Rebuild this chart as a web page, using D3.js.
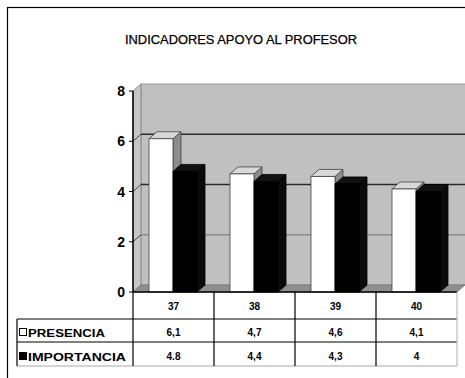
<!DOCTYPE html>
<html>
<head>
<meta charset="utf-8">
<script src="https://cdn.jsdelivr.net/npm/d3@7"></script>
<style>
  html, body { margin: 0; padding: 0; background: #fff; }
  svg { display: block; }
  text { font-family: "Liberation Sans", Arial, sans-serif; fill: #000; }
</style>
</head>
<body>
<svg id="chart" width="465" height="378"></svg>
<script>
// Categories and series
const categories = ["37", "38", "39", "40"];
const presencia = [6.1, 4.7, 4.6, 4.1];
const importancia = [4.8, 4.4, 4.3, 4];
const presenciaLabels = ["6,1", "4,7", "4,6", "4,1"];
const importanciaLabels = ["4.8", "4,4", "4,3", "4"];
const yTicks = [0, 2, 4, 6, 8];
const seriesNames = ["PRESENCIA", "IMPORTANCIA"];
const title = "INDICADORES APOYO AL PROFESOR";

const svg = d3.select("#chart");

// Layout
const plotLeft = 133, plotRight = 457, plotTop = 91, plotBottom = 292;
const dx = 8, dy = -7;           // depth offset of the 3D walls
const barW = 24, barPad = 16;

const x = d3.scaleBand().domain(categories).range([plotLeft, plotRight]);
const y = d3.scaleLinear().domain([0, 8]).range([plotBottom, plotTop]);

// Outer frame
svg.append("rect").attr("x", 7.5).attr("y", 7.5).attr("width", 480).attr("height", 400)
  .attr("fill", "none").attr("stroke", "#000").attr("stroke-width", 1.2);

// Title
svg.append("text").attr("x", 241).attr("y", 43.5).attr("text-anchor", "middle")
  .attr("font-size", 12).attr("textLength", 232).attr("lengthAdjust", "spacingAndGlyphs")
  .attr("stroke", "#000").attr("stroke-width", 0.25)
  .text(title);

// Back wall
svg.append("rect").attr("x", plotLeft + dx).attr("y", y(8) + dy)
  .attr("width", 470 - plotLeft - dx).attr("height", y(0) - y(8))
  .attr("fill", "#c0c0c0").attr("stroke", "#9a9a9a").attr("stroke-width", 1);

// Left side wall
svg.append("path")
  .attr("d", d3.line()([[plotLeft, y(8)], [plotLeft + dx, y(8) + dy], [plotLeft + dx, y(0) + dy], [plotLeft, y(0)]]) + "Z")
  .attr("fill", "#c6c6c6").attr("stroke", "#8a8a8a").attr("stroke-width", 1);

// Floor
svg.append("path")
  .attr("d", d3.line()([[plotLeft, y(0)], [plotLeft + dx, y(0) + dy], [plotRight + dx, y(0) + dy], [plotRight, y(0)]]) + "Z")
  .attr("fill", "#8e8e8e").attr("stroke", "#777").attr("stroke-width", 0.8);

// Gridlines on walls
const gridColor = v => (v === 6 || v === 4) ? "#2a2a2a" : "#8c8c8c";
yTicks.filter(v => v > 0 && v < 8).forEach(v => {
  svg.append("line").attr("x1", plotLeft + dx).attr("x2", 470)
    .attr("y1", y(v) + dy).attr("y2", y(v) + dy)
    .attr("stroke", gridColor(v)).attr("stroke-width", 1.4);
  svg.append("line").attr("x1", plotLeft).attr("x2", plotLeft + dx)
    .attr("y1", y(v)).attr("y2", y(v) + dy)
    .attr("stroke", "#444").attr("stroke-width", 1);
});

// 3D bar helper
function bar(x0, v, front, topFill, sideFill, stroke) {
  const y0 = y(0), y1 = y(v);
  const g = svg.append("g");
  g.append("path")
    .attr("d", d3.line()([[x0 + barW, y1], [x0 + barW + dx, y1 + dy], [x0 + barW + dx, y0 + dy], [x0 + barW, y0]]) + "Z")
    .attr("fill", sideFill).attr("stroke", stroke).attr("stroke-width", 0.8);
  g.append("path")
    .attr("d", d3.line()([[x0, y1], [x0 + dx, y1 + dy], [x0 + barW + dx, y1 + dy], [x0 + barW, y1]]) + "Z")
    .attr("fill", topFill).attr("stroke", stroke).attr("stroke-width", 0.8);
  g.append("rect").attr("x", x0).attr("y", y1).attr("width", barW).attr("height", y0 - y1)
    .attr("fill", front).attr("stroke", stroke).attr("stroke-width", 0.8);
}

categories.forEach((c, i) => {
  const bx = x(c) + barPad;
  bar(bx, presencia[i], "#ffffff", "#d8d8d8", "#8c8c8c", "#444");
  bar(bx + barW, importancia[i], "#000000", "#111", "#0a0a0a", "#000");
});

// Value axis
svg.append("line").attr("x1", plotLeft).attr("x2", plotLeft).attr("y1", y(8)).attr("y2", y(0))
  .attr("stroke", "#000").attr("stroke-width", 1.5);
yTicks.forEach(v => {
  svg.append("line").attr("x1", plotLeft - 4).attr("x2", plotLeft).attr("y1", y(v)).attr("y2", y(v))
    .attr("stroke", "#000").attr("stroke-width", 1);
  svg.append("text").attr("x", plotLeft - 8).attr("y", y(v)).attr("dy", "0.36em")
    .attr("text-anchor", "end").attr("font-size", 14).attr("font-weight", "bold").text(v);
});

// Data table
const rowTop = plotBottom, hdrBottom = 319, row1Bottom = 342, row2Bottom = 366, tableLeft = 17;
const tbl = svg.append("g").attr("stroke", "#000").attr("stroke-width", 1.2);
tbl.append("line").attr("x1", plotLeft).attr("x2", plotRight).attr("y1", rowTop).attr("y2", rowTop).attr("stroke-width", 1.6);
[hdrBottom, row1Bottom].forEach(yy =>
  tbl.append("line").attr("x1", tableLeft).attr("x2", plotRight).attr("y1", yy).attr("y2", yy));
tbl.append("line").attr("x1", tableLeft).attr("x2", plotRight).attr("y1", row2Bottom).attr("y2", row2Bottom)
  .attr("stroke", "#aaa");
tbl.append("line").attr("x1", tableLeft).attr("x2", tableLeft).attr("y1", hdrBottom).attr("y2", row2Bottom);
categories.forEach(c =>
  tbl.append("line").attr("x1", x(c)).attr("x2", x(c)).attr("y1", rowTop).attr("y2", row2Bottom));
tbl.append("line").attr("x1", plotRight).attr("x2", plotRight).attr("y1", rowTop).attr("y2", row2Bottom)
  .attr("stroke", "#bbb");

categories.forEach((c, i) => {
  const cx = x(c) + x.bandwidth() / 2;
  svg.append("text").attr("x", cx).attr("y", 310).attr("text-anchor", "middle")
    .attr("font-size", 10).attr("font-weight", "bold").text(c);
  svg.append("text").attr("x", cx).attr("y", 336).attr("text-anchor", "middle")
    .attr("font-size", 10).attr("font-weight", "bold").text(presenciaLabels[i]);
  svg.append("text").attr("x", cx).attr("y", 360).attr("text-anchor", "middle")
    .attr("font-size", 10).attr("font-weight", "bold").text(importanciaLabels[i]);
});

// Legend keys and series names
const nameWidths = [77, 98];
[[329, "#fff"], [353, "#000"]].forEach(([ky, fill], i) => {
  svg.append("rect").attr("x", 19.5).attr("y", ky - 0.5).attr("width", 7).attr("height", 7)
    .attr("fill", fill).attr("stroke", "#000").attr("stroke-width", 1);
  svg.append("text").attr("x", 28).attr("y", ky + 7.5).attr("font-size", 10.5).attr("font-weight", "bold")
    .attr("textLength", nameWidths[i]).attr("lengthAdjust", "spacingAndGlyphs")
    .text(seriesNames[i]);
});
</script>
</body>
</html>
